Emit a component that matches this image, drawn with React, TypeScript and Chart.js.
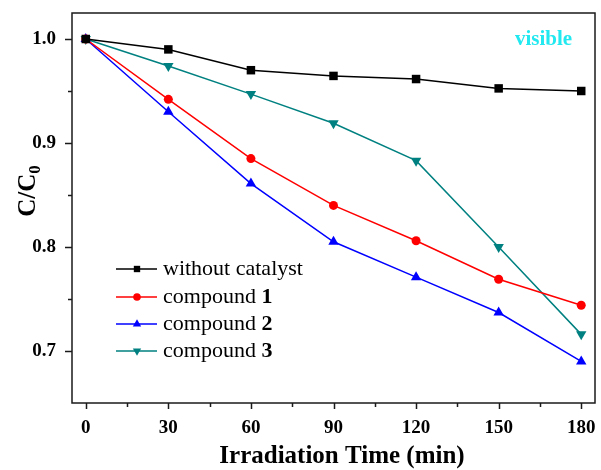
import React, { useEffect, useRef } from "react";
import { Chart, registerables } from "chart.js";

Chart.register(...registerables);

// Irradiation times (min) and normalized concentration C/C0 for each run
const times = [0, 30, 60, 90, 120, 150, 180];
const withoutCatalyst = [1.0, 0.99, 0.97, 0.9645, 0.9615, 0.9525, 0.95];
const compound1 = [1.0, 0.942, 0.885, 0.84, 0.806, 0.769, 0.744];
const compound2 = [1.0, 0.93, 0.861, 0.805, 0.771, 0.737, 0.69];
const compound3 = [1.0, 0.974, 0.947, 0.919, 0.883, 0.8, 0.716];

const xTicks = [0, 30, 60, 90, 120, 150, 180];
const xMinorTicks = [15, 45, 75, 105, 135, 165];
const yTicks = [0.7, 0.8, 0.9, 1.0];
const yMinorTicks = [0.75, 0.85, 0.95];

// legend text: plain part + bold compound number
const legendNames = ["without catalyst", "compound ", "compound ", "compound "];
const legendNumbers = ["", "1", "2", "3"];

const seriesColors = ["#000000", "#ff0000", "#0000ff", "#008080"];
const seriesStyles = ["rect", "circle", "triangle", "triangle"];
const seriesRotation = [0, 0, 0, 180];
const seriesRadius = [6, 4.5, 6, 6];
const legendRadius = [4.5, 3.8, 4.8, 4.8];

const SERIF = '"Liberation Serif", "Times New Roman", serif';

const toPoints = (ys: number[]) => times.map((t, i) => ({ x: t, y: ys[i] }));

function drawMarker(ctx: CanvasRenderingContext2D, style: string, r: number, rot: number, x: number, y: number) {
  ctx.beginPath();
  if (style === "rect") {
    const s = Math.SQRT1_2 * r;
    ctx.rect(x - s, y - s, 2 * s, 2 * s);
  } else if (style === "circle") {
    ctx.arc(x, y, r, 0, Math.PI * 2);
  } else {
    let a = (rot * Math.PI) / 180;
    ctx.moveTo(x + Math.sin(a) * r, y - Math.cos(a) * r);
    a += (2 * Math.PI) / 3;
    ctx.lineTo(x + Math.sin(a) * r, y - Math.cos(a) * r);
    a += (2 * Math.PI) / 3;
    ctx.lineTo(x + Math.sin(a) * r, y - Math.cos(a) * r);
    ctx.closePath();
  }
  ctx.fill();
}

const decorations = {
  id: "decorations",
  afterDraw(chart: any) {
    const { ctx, chartArea } = chart;
    const { left, right, top, bottom } = chartArea;
    const xs = chart.scales.x;
    const ys = chart.scales.y;
    ctx.save();

    // plot frame
    ctx.strokeStyle = "#1a1a1a";
    ctx.lineWidth = 1.5;
    ctx.strokeRect(left, top, right - left, bottom - top);

    // outward tick marks on bottom and left axes
    ctx.beginPath();
    xTicks.forEach((v) => {
      const px = Math.round(xs.getPixelForValue(v)) + 0.5;
      ctx.moveTo(px, bottom);
      ctx.lineTo(px, bottom + 6);
    });
    xMinorTicks.forEach((v) => {
      const px = Math.round(xs.getPixelForValue(v)) + 0.5;
      ctx.moveTo(px, bottom);
      ctx.lineTo(px, bottom + 4);
    });
    yTicks.forEach((v) => {
      const py = Math.round(ys.getPixelForValue(v)) + 0.5;
      ctx.moveTo(left, py);
      ctx.lineTo(left - 7, py);
    });
    yMinorTicks.forEach((v) => {
      const py = Math.round(ys.getPixelForValue(v)) + 0.5;
      ctx.moveTo(left, py);
      ctx.lineTo(left - 4, py);
    });
    ctx.stroke();

    // x axis title
    ctx.fillStyle = "#000";
    ctx.font = `bold 25px ${SERIF}`;
    ctx.textAlign = "center";
    ctx.textBaseline = "middle";
    ctx.fillText("Irradiation Time (min)", 342, 457);

    // y axis title C/C0 with subscript
    ctx.save();
    ctx.translate(27, 191);
    ctx.rotate(-Math.PI / 2);
    ctx.font = `bold 25px ${SERIF}`;
    const main = "C/C";
    const mw = ctx.measureText(main).width;
    ctx.font = `bold 17px ${SERIF}`;
    const sw = ctx.measureText("0").width;
    const start = -(mw + sw) / 2;
    ctx.textAlign = "left";
    ctx.textBaseline = "alphabetic";
    ctx.font = `bold 25px ${SERIF}`;
    ctx.fillText(main, start, 8);
    ctx.font = `bold 17px ${SERIF}`;
    ctx.fillText("0", start + mw, 13);
    ctx.restore();

    // "visible" label
    ctx.fillStyle = "#22e8f0";
    ctx.font = `bold 21px ${SERIF}`;
    ctx.textAlign = "left";
    ctx.textBaseline = "middle";
    ctx.fillText("visible", 515, 40);

    // legend
    const rowY = [269, 297, 324, 351];
    legendNames.forEach((name, i) => {
      const y = rowY[i];
      ctx.strokeStyle = seriesColors[i];
      ctx.lineWidth = 1.5;
      ctx.beginPath();
      ctx.moveTo(116, y);
      ctx.lineTo(157, y);
      ctx.stroke();
      ctx.fillStyle = seriesColors[i];
      drawMarker(ctx, seriesStyles[i], legendRadius[i], seriesRotation[i], 137, y);
      ctx.fillStyle = "#000";
      ctx.textAlign = "left";
      ctx.textBaseline = "middle";
      ctx.font = `22px ${SERIF}`;
      ctx.fillText(name, 163, y);
      if (legendNumbers[i]) {
        const w = ctx.measureText(name).width;
        ctx.font = `bold 22px ${SERIF}`;
        ctx.fillText(legendNumbers[i], 163 + w, y);
      }
    });

    ctx.restore();
  },
};

export default function App() {
  const ref = useRef<HTMLCanvasElement | null>(null);

  useEffect(() => {
    document.body.style.margin = "0";
    const canvas = ref.current;
    if (!canvas) return;
    const allSeries = [withoutCatalyst, compound1, compound2, compound3];
    const chart = new Chart(canvas, {
      type: "line",
      data: {
        datasets: allSeries.map((s, i) => ({
          label: legendNames[i] + legendNumbers[i],
          data: toPoints(s),
          borderColor: seriesColors[i],
          backgroundColor: seriesColors[i],
          borderWidth: 1.5,
          pointStyle: seriesStyles[i] as any,
          pointRotation: seriesRotation[i],
          pointRadius: seriesRadius[i],
          pointBorderWidth: 0,
          tension: 0,
          fill: false,
        })),
      },
      options: {
        animation: false,
        responsive: false,
        layout: { padding: { top: 13, right: 5, left: 0, bottom: 0 } },
        plugins: { legend: { display: false }, tooltip: { enabled: false } },
        scales: {
          x: {
            type: "linear",
            min: -5,
            max: 185,
            afterBuildTicks: (s: any) => {
              s.ticks = xTicks.map((v) => ({ value: v }));
            },
            afterFit: (s: any) => {
              s.height = 67;
              s.paddingLeft = 0;
              s.paddingRight = 0;
            },
            grid: { display: false, drawTicks: false },
            border: { display: false },
            ticks: {
              color: "#000",
              padding: 14,
              maxRotation: 0,
              autoSkip: false,
              font: { family: SERIF, size: 19, weight: "bold" },
            },
          },
          y: {
            type: "linear",
            min: 0.65,
            max: 1.025,
            afterBuildTicks: (s: any) => {
              s.ticks = yTicks.map((v) => ({ value: v }));
            },
            afterFit: (s: any) => {
              s.width = 72;
              s.paddingTop = 0;
              s.paddingBottom = 0;
            },
            grid: { display: false, drawTicks: false },
            border: { display: false },
            ticks: {
              color: "#000",
              padding: 16,
              autoSkip: false,
              callback: (v: any) => Number(v).toFixed(1),
              font: { family: SERIF, size: 19, weight: "bold" },
            },
          },
        },
      },
      plugins: [decorations],
    });
    return () => chart.destroy();
  }, []);

  return <canvas ref={ref} width={601} height={470} style={{ display: "block" }} />;
}
